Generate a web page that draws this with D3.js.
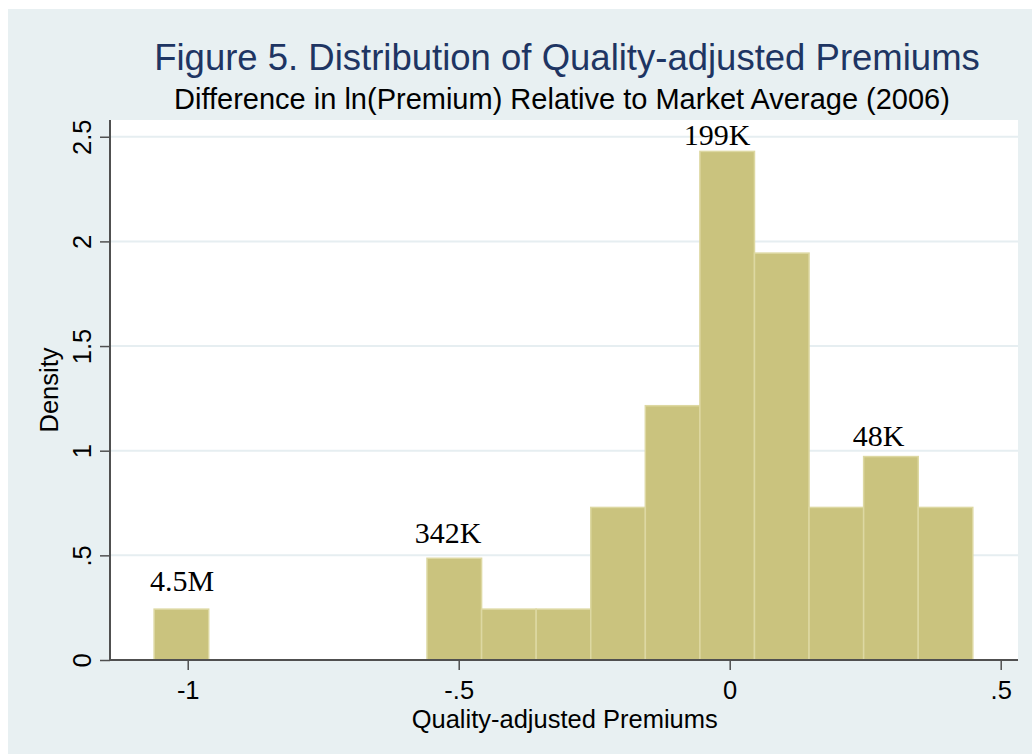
<!DOCTYPE html>
<html>
<head>
<meta charset="utf-8">
<script src="https://cdn.jsdelivr.net/npm/d3@7"></script>
<style>
  html, body { margin: 0; padding: 0; background: #ffffff; }
  svg { display: block; }
</style>
</head>
<body>
<svg id="chart" width="1032" height="754"></svg>
<script>
// ---- data ----
const binStart = -1.062;
const binWidth = 0.1007;
const densities = [0.243, 0, 0, 0, 0, 0.486, 0.243, 0.243, 0.729, 1.215, 2.43, 1.944, 0.729, 0.972, 0.729];
const xTicks = [-1, -0.5, 0, 0.5];
const xTickLabels = ["-1", "-.5", "0", ".5"];
const yTicks = [0, 0.5, 1, 1.5, 2, 2.5];
const yTickLabels = ["0", ".5", "1", "1.5", "2", "2.5"];
const annLabels = ["4.5M", "342K", "199K", "48K"];
const annX = [-1.0105, -0.5197, -0.0234, 0.2749];
const annY = [0.331, 0.5575, 2.459, 1.0225];
const titleText = "Figure 5. Distribution of Quality-adjusted Premiums";
const subtitleText = "Difference in ln(Premium) Relative to Market Average (2006)";
const xTitle = "Quality-adjusted Premiums";
const yTitle = "Density";

const bins = densities.map((d, i) => ({ x0: binStart + i * binWidth, x1: binStart + (i + 1) * binWidth, d }));

const svg = d3.select("#chart");
const W = 1032, H = 754;
const plot = { left: 110, right: 1018, top: 120, bottom: 660 };

const x = d3.scaleLinear().domain([-1.1434, 0.5319]).range([plot.left, plot.right]);
const y = d3.scaleLinear().domain([0, 2.58]).range([plot.bottom, plot.top]);

// outer background
svg.append("rect").attr("x", 8).attr("y", 9).attr("width", W - 8).attr("height", H - 9).attr("fill", "#e8f0f2");
// plot region
svg.append("rect").attr("x", plot.left).attr("y", plot.top)
  .attr("width", plot.right - plot.left).attr("height", plot.bottom - plot.top).attr("fill", "#ffffff");

// gridlines
svg.append("g").selectAll("line").data(yTicks.filter(t => t > 0)).join("line")
  .attr("x1", plot.left).attr("x2", plot.right)
  .attr("y1", d => y(d)).attr("y2", d => y(d))
  .attr("stroke", "#e6eef1").attr("stroke-width", 2);

// bars
svg.append("g").selectAll("rect").data(bins.filter(b => b.d > 0)).join("rect")
  .attr("x", b => x(b.x0)).attr("width", b => x(b.x1) - x(b.x0))
  .attr("y", b => y(b.d)).attr("height", b => y(0) - y(b.d))
  .attr("fill", "#cac37e").attr("stroke", "#ddd8a2").attr("stroke-width", 1.5);

const font = "'Liberation Sans', Arial, Helvetica, sans-serif";

// x axis
const xAxis = d3.axisBottom(x).tickValues(xTicks).tickFormat((d, i) => xTickLabels[i]).tickSize(10).tickSizeOuter(0);
const gx = svg.append("g").attr("transform", `translate(0,${plot.bottom})`).call(xAxis);
gx.select(".domain").attr("stroke", "#505050").attr("stroke-width", 2)
  .attr("d", `M${plot.left},0H${plot.right}`);
gx.selectAll(".tick line").attr("stroke", "#505050").attr("stroke-width", 1.5);
gx.selectAll(".tick text").attr("font-family", font).attr("font-size", 25.5).attr("fill", "#000")
  .attr("y", 38.5).attr("dy", 0);

// y axis
const yAxis = d3.axisLeft(y).tickValues(yTicks).tickFormat((d, i) => yTickLabels[i]).tickSize(10).tickSizeOuter(0);
const gy = svg.append("g").attr("transform", `translate(${plot.left},0)`).call(yAxis);
gy.select(".domain").attr("stroke", "#505050").attr("stroke-width", 2)
  .attr("d", `M0,${plot.top}V${plot.bottom}`);
gy.selectAll(".tick line").attr("stroke", "#505050").attr("stroke-width", 1.5);
gy.selectAll(".tick text").attr("font-family", font).attr("font-size", 25.5).attr("fill", "#000")
  .attr("x", null).attr("dy", null)
  .attr("text-anchor", "middle")
  .attr("transform", "translate(-19,0) rotate(-90)");

// axis titles
svg.append("text").attr("x", x(-0.5) + 106).attr("y", 728)
  .attr("text-anchor", "middle").attr("font-family", font).attr("font-size", 25.5).attr("fill", "#000")
  .text(xTitle);
svg.append("text").attr("transform", `translate(58,${(plot.top + plot.bottom) / 2}) rotate(-90)`)
  .attr("text-anchor", "middle").attr("font-family", font).attr("font-size", 25.5).attr("fill", "#000")
  .text(yTitle);

// titles
svg.append("text").attr("x", 567).attr("y", 70).attr("text-anchor", "middle")
  .attr("font-family", font).attr("font-size", 36.5).attr("fill", "#1e3563").text(titleText);
svg.append("text").attr("x", 562).attr("y", 109).attr("text-anchor", "middle")
  .attr("font-family", font).attr("font-size", 29).attr("fill", "#000").text(subtitleText);

// annotations
svg.append("g").selectAll("text").data(annLabels).join("text")
  .attr("x", (d, i) => x(annX[i])).attr("y", (d, i) => y(annY[i]))
  .attr("text-anchor", "middle")
  .attr("font-family", "'Liberation Serif', 'Times New Roman', Times, serif")
  .attr("font-size", 30).attr("fill", "#000").text(d => d);
</script>
</body>
</html>
